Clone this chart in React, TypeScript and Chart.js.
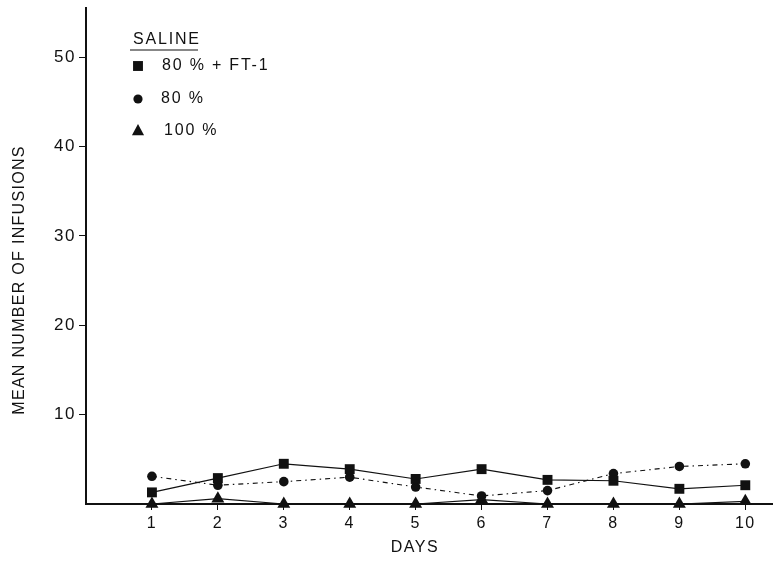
import React, { useEffect, useRef } from 'react';
import { Chart, registerables } from 'chart.js';
Chart.register(...registerables);

const days = [1, 2, 3, 4, 5, 6, 7, 8, 9, 10];
const ft1Values = [1.3, 2.9, 4.5, 3.9, 2.8, 3.9, 2.7, 2.6, 1.7, 2.1];
const pct80Values = [3.1, 2.1, 2.5, 3.0, 1.9, 0.9, 1.5, 3.4, 4.2, 4.5];
const pct100Values = [0, 0.6, 0, 0, 0, 0.5, 0, 0, 0, 0.3];
const yTickValues = [10, 20, 30, 40, 50];
const legendTitle = 'SALINE';
const seriesLabels = ['80 % + FT-1', '80 %', '100 %'];
const xTitle = 'DAYS';
const yTitle = 'MEAN NUMBER OF INFUSIONS';

const FONT = '"Liberation Sans", Arial, sans-serif';
const INK = '#111';

function drawMarker(ctx: CanvasRenderingContext2D, style: string, r: number, x: number, y: number) {
  ctx.beginPath();
  if (style === 'rect') {
    const s = Math.SQRT1_2 * r;
    ctx.rect(x - s, y - s, 2 * s, 2 * s);
  } else if (style === 'circle') {
    ctx.arc(x, y, r, 0, Math.PI * 2);
  } else {
    ctx.moveTo(x, y - r);
    ctx.lineTo(x + r * 0.866, y + r * 0.6);
    ctx.lineTo(x - r * 0.866, y + r * 0.6);
    ctx.closePath();
  }
  ctx.fill();
}

const textPlugin = {
  id: 'textPlugin',
  beforeDraw(chart: any) {
    (chart.ctx as any).letterSpacing = '1.5px';
  },
  afterDraw(chart: any) {
    const ctx = chart.ctx as CanvasRenderingContext2D;
    ctx.save();
    (ctx as any).letterSpacing = '1.8px';
    ctx.fillStyle = INK;
    ctx.strokeStyle = INK;
    ctx.font = `16px ${FONT}`;
    ctx.textBaseline = 'middle';
    ctx.textAlign = 'left';
    ctx.fillText(legendTitle, 133, 40);
    ctx.lineWidth = 1.2;
    ctx.beginPath();
    ctx.moveTo(130, 50);
    ctx.lineTo(198, 50);
    ctx.stroke();
    const rows = [66, 99, 131];
    const xs = [162, 161, 164];
    const styles = ['rect', 'circle', 'triangle'];
    const radii = [7, 4.6, 7];
    rows.forEach((y, i) => {
      drawMarker(ctx, styles[i], radii[i], 138, y);
      ctx.fillText(seriesLabels[i], xs[i], y);
    });
    (ctx as any).letterSpacing = '1.5px';
    ctx.textAlign = 'center';
    ctx.fillText(xTitle, 415, 548);
    ctx.save();
    ctx.translate(20, 280);
    ctx.rotate(-Math.PI / 2);
    (ctx as any).letterSpacing = '1.3px';
    ctx.fillText(yTitle, 0, 0);
    ctx.restore();
    ctx.restore();
  },
};

export default function App() {
  const ref = useRef<HTMLCanvasElement>(null);
  useEffect(() => {
    document.body.style.margin = '0';
    const ctx = ref.current!.getContext('2d')!;
    const toPts = (vals: number[]) => days.map((d, i) => ({ x: d, y: vals[i] }));
    const chart = new Chart(ctx, {
      type: 'line',
      data: {
        datasets: [
          {
            label: seriesLabels[0],
            data: toPts(ft1Values),
            borderColor: INK,
            backgroundColor: INK,
            borderWidth: 1.2,
            pointStyle: 'rect',
            pointRadius: 7,
            pointBorderWidth: 0,
            fill: false,
            tension: 0,
            clip: false,
          },
          {
            label: seriesLabels[1],
            data: toPts(pct80Values),
            borderColor: INK,
            backgroundColor: INK,
            borderWidth: 1.1,
            borderDash: [5, 4, 1.5, 4],
            pointStyle: 'circle',
            pointRadius: 4.8,
            pointBorderWidth: 0,
            fill: false,
            tension: 0,
            clip: false,
          },
          {
            label: seriesLabels[2],
            data: toPts(pct100Values),
            borderColor: INK,
            backgroundColor: INK,
            borderWidth: 1.2,
            pointStyle: 'triangle',
            pointRadius: 7.5,
            pointBorderWidth: 0,
            fill: false,
            tension: 0,
            clip: false,
          },
        ],
      },
      options: {
        animation: false,
        responsive: false,
        events: [],
        layout: { autoPadding: false, padding: { top: 8, right: 0, left: 0, bottom: 0 } },
        plugins: { legend: { display: false }, tooltip: { enabled: false } },
        scales: {
          x: {
            type: 'linear',
            min: 0,
            max: 10.42,
            afterBuildTicks: (scale: any) => {
              scale.ticks = days.map((d) => ({ value: d }));
            },
            afterFit: (scale: any) => {
              scale.height = 61;
              scale.paddingLeft = 0;
              scale.paddingRight = 0;
            },
            border: { display: true, color: INK, width: 2 },
            grid: { drawOnChartArea: false, drawTicks: true, tickLength: 6, color: INK, lineWidth: 1 },
            ticks: {
              color: INK,
              font: { family: FONT, size: 16 },
              padding: 4,
              maxRotation: 0,
              callback: (v: any) => String(v),
            },
          },
          y: {
            type: 'linear',
            min: 0,
            max: 55.5,
            afterBuildTicks: (scale: any) => {
              scale.ticks = yTickValues.map((v) => ({ value: v }));
            },
            afterFit: (scale: any) => {
              scale.width = 86;
              scale.paddingTop = 0;
              scale.paddingBottom = 0;
            },
            border: { display: true, color: INK, width: 2 },
            grid: { drawOnChartArea: false, drawTicks: true, tickLength: 7, color: INK, lineWidth: 1 },
            ticks: {
              color: INK,
              font: { family: FONT, size: 17 },
              padding: 3,
              callback: (v: any) => String(v),
            },
          },
        },
      },
      plugins: [textPlugin],
    });
    return () => chart.destroy();
  }, []);
  return <canvas ref={ref} width={773} height={565} style={{ display: 'block' }} />;
}
